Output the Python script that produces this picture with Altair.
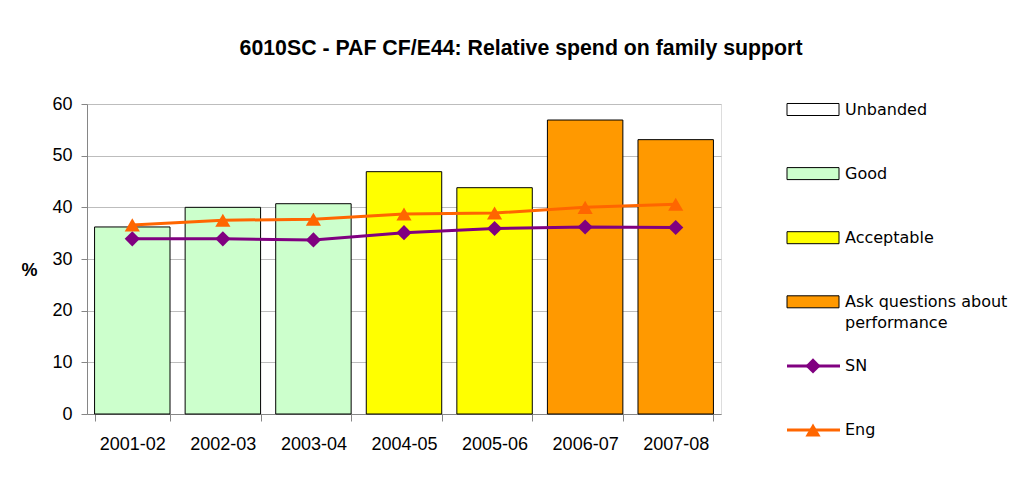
import altair as alt
import pandas as pd

# ---- data ----
years = ["2001-02", "2002-03", "2003-04", "2004-05", "2005-06", "2006-07", "2007-08"]
spend = [36.2, 40.0, 40.7, 46.9, 43.8, 56.9, 53.1]
bands = ["Good", "Good", "Good", "Acceptable", "Acceptable",
         "Ask questions about performance", "Ask questions about performance"]
sn = [33.9, 33.9, 33.7, 35.1, 35.9, 36.2, 36.1]
eng = [36.6, 37.5, 37.7, 38.7, 38.9, 40.0, 40.6]

band_names = ["Unbanded", "Good", "Acceptable", "Ask questions about performance"]
band_colors = ["#FFFFFF", "#CCFFCC", "#FFFF00", "#FF9900"]
series_names = ["SN", "Eng"]
series_colors = ["#800080", "#FF6600"]
series_shapes = ["diamond", "triangle-up"]
legend_text = ["Unbanded", "Good", "Acceptable", "Ask questions about\nperformance", "SN", "Eng"]
legend_kind = ["box", "box", "box", "box", "line", "line"]
y_ticks = [0, 10, 20, 30, 40, 50, 60]

bars_df = pd.DataFrame({"year": years, "spend": spend, "band": bands})
lines_df = pd.DataFrame({
    "year": years * 2,
    "value": sn + eng,
    "series": ["SN"] * len(years) + ["Eng"] * len(years),
})
legend_df = pd.DataFrame({
    "key": band_names + series_names,
    "text": legend_text,
    "kind": legend_kind,
    "idx": list(range(len(legend_text))),
})

AXIS_FONT = "Liberation Sans"
LEG_FONT = "DejaVu Sans"

color_scale = alt.Scale(domain=band_names + series_names, range=band_colors + series_colors)
shape_scale = alt.Scale(domain=series_names, range=series_shapes)
y_scale = alt.Scale(domain=[0, 60], nice=False, zero=True)

y_axis = alt.Axis(values=y_ticks, title="%", titleAngle=0, titleX=-58, titleY=166,
                  titleAlign="center", titleBaseline="middle",
                  titleFont=AXIS_FONT, titleFontSize=18, titleFontWeight="bold",
                  titleColor="#000000",
                  labelFont=AXIS_FONT, labelFontSize=18, labelColor="#000000",
                  labelPadding=9, tickSize=6, tickColor="#868686",
                  domainColor="#868686", grid=True, gridColor="#bdbdbd")

x_axis = alt.Axis(title=None, labelAngle=0, ticks=True, tickBand="extent", tickSize=7,
                  tickColor="#868686", labelPadding=14,
                  labelFont=AXIS_FONT, labelFontSize=18, labelColor="#000000",
                  domainColor="#868686", domainWidth=1, grid=False)
x_enc = alt.X("year:N", sort=years,
              scale=alt.Scale(paddingInner=0.167, paddingOuter=0.0835), axis=x_axis)

bars = alt.Chart(bars_df).mark_bar(stroke="#000000", strokeWidth=1, opacity=1).encode(
    x=x_enc,
    y=alt.Y("spend:Q", scale=y_scale, axis=y_axis),
    color=alt.Color("band:N", scale=color_scale, legend=None),
)

lines = alt.Chart(lines_df).mark_line(strokeWidth=3).encode(
    x=x_enc,
    y=alt.Y("value:Q", scale=y_scale, axis=y_axis),
    color=alt.Color("series:N", scale=color_scale, legend=None),
    detail="series:N",
)

points = alt.Chart(lines_df).mark_point(filled=True, opacity=1, size=230, strokeWidth=0).encode(
    x=x_enc,
    y=alt.Y("value:Q", scale=y_scale, axis=y_axis),
    color=alt.Color("series:N", scale=color_scale, legend=None),
    shape=alt.Shape("series:N", scale=shape_scale, legend=None),
)

main = alt.layer(bars, lines, points)

# ---- hand-built legend on its own vertical scale ----
leg_y = alt.Y("idx:Q", scale=alt.Scale(domain=[0, 5], range=[5.5, 326], nice=False, zero=False), axis=None)

leg_boxes = alt.Chart(legend_df).transform_filter(alt.datum.kind == "box").mark_point(
    shape="M-1,-0.2308L1,-0.2308L1,0.2308L-1,0.2308Z", size=2704, filled=True,
    stroke="#000000", strokeWidth=1, opacity=1,
).encode(
    x=alt.value(726), y=leg_y,
    color=alt.Color("key:N", scale=color_scale, legend=None),
)

leg_lines = alt.Chart(legend_df).transform_filter(alt.datum.kind == "line").mark_rule(strokeWidth=3).encode(
    x=alt.value(700), x2=alt.value(753), y=leg_y,
    color=alt.Color("key:N", scale=color_scale, legend=None),
)

leg_pts = alt.Chart(legend_df).transform_filter(alt.datum.kind == "line").mark_point(
    filled=True, opacity=1, size=230, strokeWidth=0,
).encode(
    x=alt.value(726), y=leg_y,
    color=alt.Color("key:N", scale=color_scale, legend=None),
    shape=alt.Shape("key:N", scale=shape_scale, legend=None),
)

leg_text = alt.Chart(legend_df).mark_text(
    align="left", baseline="middle", font=LEG_FONT, fontSize=16, color="#000000",
    lineBreak="\n", lineHeight=21,
).encode(
    x=alt.value(758), y=leg_y, text="text:N",
)

legend = alt.layer(leg_boxes, leg_lines, leg_pts, leg_text)

chart = alt.layer(main, legend).resolve_scale(y="independent").properties(
    width=634, height=310,
    title=alt.TitleParams(
        "6010SC - PAF CF/E44: Relative spend on family support",
        anchor="middle", frame="group", dx=117, offset=19, baseline="alphabetic",
        font=AXIS_FONT, fontSize=21.3, fontWeight="bold", color="#000000",
    ),
    autosize=alt.AutoSizeParams(type="none"),
    padding={"left": 79, "top": 96, "right": 288, "bottom": 60},
).configure_view(stroke="#b0b0b0", strokeWidth=1).configure(background="#ffffff")

chart.save("out.html", embed_options={"renderer": "svg", "actions": False})
